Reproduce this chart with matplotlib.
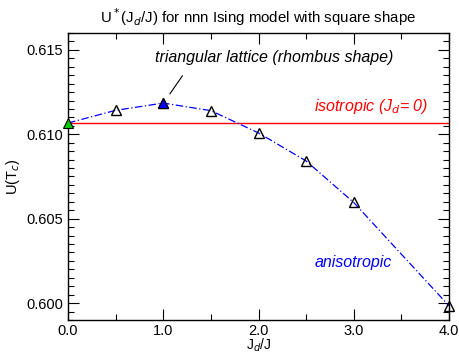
import numpy as np
import matplotlib.pyplot as plt
from matplotlib.ticker import MultipleLocator

plt.rcParams['font.family'] = ['Liberation Sans', 'DejaVu Sans']

jd = [0.0, 0.5, 1.0, 1.5, 2.0, 2.5, 3.0, 4.0]
u_tc = [0.61067, 0.61142, 0.61185, 0.61140, 0.61008, 0.60842, 0.60596, 0.59984]
u_iso = 0.61067

fig = plt.figure(figsize=(4.6, 3.53), dpi=100)
ax = fig.add_axes([0.148, 0.0935, 0.828, 0.813])

ax.axhline(u_iso, color='red', lw=1.0, zorder=1)
ax.plot(jd, u_tc, color='blue', ls=(0, (6, 2, 1, 2)), lw=0.9, zorder=2)
ax.plot(jd[1:], u_tc[1:], ls='none', marker='^', ms=7, mfc='none', mec='black', mew=1.0, zorder=3, clip_on=False)
ax.plot(jd[2], u_tc[2], ls='none', marker='^', ms=7, mfc='blue', mec='black', mew=0.8, zorder=4)
ax.plot(jd[0], u_tc[0], ls='none', marker='^', ms=7, mfc='#00cc00', mec='black', mew=0.8, zorder=4, clip_on=False)

ax.set_xlim(0, 4)
ax.set_ylim(0.599, 0.616)
ax.xaxis.set_major_locator(MultipleLocator(1.0))
ax.xaxis.set_minor_locator(MultipleLocator(0.5))
ax.yaxis.set_major_locator(MultipleLocator(0.005))
ax.yaxis.set_minor_locator(MultipleLocator(0.0005))
ax.xaxis.set_major_formatter(plt.FormatStrFormatter('%.1f'))
ax.yaxis.set_major_formatter(plt.FormatStrFormatter('%.3f'))
ax.tick_params(which='both', direction='in', top=True, right=True, labelsize=10.5, width=0.8)
ax.tick_params(axis='x', pad=3)
ax.tick_params(which='major', length=8)
ax.tick_params(which='minor', length=4)
for s in ax.spines.values():
    s.set_linewidth(1.0)

ax.set_xlabel('J$_d$/J', fontsize=10, labelpad=-1)
ax.set_ylabel('U(T$_c$)', fontsize=10.5, labelpad=3)
ax.set_title('U$^*$(J$_d$/J) for nnn Ising model with square shape', fontsize=10.8, pad=7)

ax.text(2.16, 0.61453, 'triangular lattice (rhombus shape)', style='italic', fontsize=11.5, ha='center', va='center')
ax.plot([1.07, 1.2], [0.6124, 0.61346], color='black', lw=0.8)
ax.text(3.78, 0.61165, 'isotropic (J$_d$= 0)', style='italic', color='red', fontsize=11.5, ha='right', va='center')
ax.text(2.99, 0.60238, 'anisotropic', style='italic', color='blue', fontsize=11.5, ha='center', va='center')

fig.savefig('out.png', dpi=100)
